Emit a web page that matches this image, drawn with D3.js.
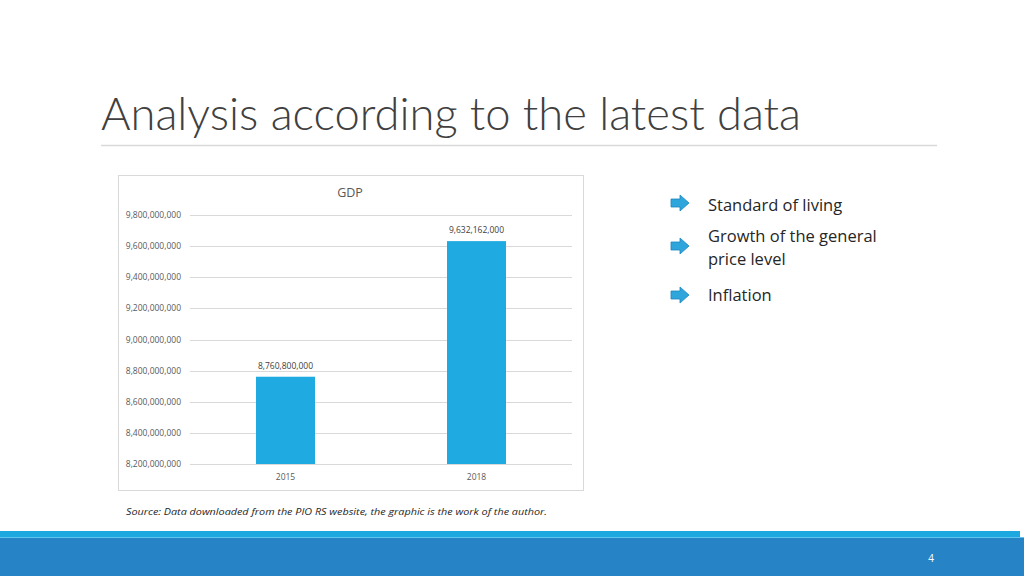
<!DOCTYPE html>
<html>
<head>
<meta charset="utf-8">
<script src="https://cdn.jsdelivr.net/npm/d3@7"></script>
<style>
  body { margin: 0; background: #fff; }
  svg { display: block; font-family: "Open Sans", "Noto Sans", sans-serif; }
</style>
</head>
<body>
<script>
// chart data
const years = ["2015", "2018"];
const gdp = [8760800000, 9632162000];
const yTicks = [8200000000, 8400000000, 8600000000, 8800000000, 9000000000,
                9200000000, 9400000000, 9600000000, 9800000000];
const bullets = [["Standard of living"], ["Growth of the general", "price level"], ["Inflation"]];

const W = 1024, H = 576;
const svg = d3.select("body").append("svg")
    .attr("width", W)
    .attr("height", H);

// slide title
svg.append("text")
    .attr("x", 101).attr("y", 130)
    .attr("font-family", "Lato")
    .attr("font-weight", 300)
    .attr("font-size", 45)
    .attr("fill", "#404040")
    .attr("textLength", 700)
    .attr("lengthAdjust", "spacingAndGlyphs")
    .text("Analysis according to the latest data");

svg.append("line")
    .attr("x1", 101).attr("x2", 937)
    .attr("y1", 145.5).attr("y2", 145.5)
    .attr("stroke", "#d9d9d9").attr("stroke-width", 1.5);

// chart box
svg.append("rect")
    .attr("x", 118.5).attr("y", 175.5)
    .attr("width", 465).attr("height", 315)
    .attr("fill", "#fff")
    .attr("stroke", "#d9d9d9");

svg.append("text")
    .attr("x", 350).attr("y", 197)
    .attr("text-anchor", "middle")
    .attr("font-size", 12.5)
    .attr("fill", "#595959")
    .text("GDP");

const plot = { left: 190, right: 572, top: 215, bottom: 464 };

let x = d3.scaleBand().domain(years).range([plot.left, plot.right]);
let y = d3.scaleLinear().domain([8200000000, 9800000000]).range([plot.bottom, plot.top]);
const fmt = d3.format(",");

const g = svg.append("g");

// gridlines
g.selectAll(".grid")
    .data(yTicks)
    .enter().append("line")
    .attr("class", "grid")
    .attr("x1", plot.left).attr("x2", plot.right)
    .attr("y1", d => Math.round(y(d)) + 0.5)
    .attr("y2", d => Math.round(y(d)) + 0.5)
    .attr("stroke", "#d9d9d9");

// y labels
g.selectAll(".ylab")
    .data(yTicks)
    .enter().append("text")
    .attr("class", "ylab")
    .attr("x", 181)
    .attr("y", d => y(d) + 3)
    .attr("text-anchor", "end")
    .attr("font-size", 8.5)
    .attr("fill", "#595959")
    .text(d => fmt(d));

// bars
const bw = 59;
g.selectAll(".bar")
    .data(gdp)
    .enter().append("rect")
    .attr("class", "bar")
    .attr("x", (d, i) => x(years[i]) + x.bandwidth() / 2 - bw / 2)
    .attr("y", d => y(d))
    .attr("width", bw)
    .attr("height", d => y(8200000000) - y(d))
    .attr("fill", "#1faae1");

// value labels
g.selectAll(".vlab")
    .data(gdp)
    .enter().append("text")
    .attr("class", "vlab")
    .attr("x", (d, i) => x(years[i]) + x.bandwidth() / 2)
    .attr("y", d => y(d) - 8)
    .attr("text-anchor", "middle")
    .attr("font-size", 8.5)
    .attr("fill", "#404040")
    .text(d => fmt(d));

// x labels
g.selectAll(".xlab")
    .data(years)
    .enter().append("text")
    .attr("class", "xlab")
    .attr("x", d => x(d) + x.bandwidth() / 2)
    .attr("y", 480)
    .attr("text-anchor", "middle")
    .attr("font-size", 8.5)
    .attr("fill", "#595959")
    .text(d => d);

// source
svg.append("text")
    .attr("x", 126).attr("y", 515)
    .attr("font-size", 9.5)
    .attr("font-style", "italic")
    .attr("fill", "#262626")
    .attr("textLength", 421)
    .attr("lengthAdjust", "spacingAndGlyphs")
    .text("Source: Data downloaded from the PIO RS website, the graphic is the work of the author.");

// bullet list with arrows
const bulletY = [211, 242, 301];
const arrowY = [203, 246, 295];
bullets.forEach((lines, i) => {
    const ay = arrowY[i];
    svg.append("path")
        .attr("d", `M671,${ay - 4} L680,${ay - 4} L680,${ay - 8} L689,${ay} L680,${ay + 8} L680,${ay + 4} L671,${ay + 4} Z`)
        .attr("fill", "#2ea6dc")
        .attr("stroke", "#1d86bf")
        .attr("stroke-width", 0.8);
    const t = svg.append("text")
        .attr("x", 708).attr("y", bulletY[i])
        .attr("font-size", 16.5)
        .attr("fill", "#262626");
    lines.forEach((s, j) => {
        t.append("tspan")
            .attr("x", 708)
            .attr("dy", j === 0 ? 0 : 23)
            .text(s);
    });
});

// footer bands
svg.append("rect").attr("x", 0).attr("y", 531).attr("width", 1020).attr("height", 6).attr("fill", "#1ea8e0");
svg.append("rect").attr("x", 0).attr("y", 537).attr("width", W).attr("height", 1).attr("fill", "#5fc4ee");
svg.append("rect").attr("x", 0).attr("y", 538).attr("width", W).attr("height", 38).attr("fill", "#2683c6");

svg.append("text")
    .attr("x", 931).attr("y", 562)
    .attr("text-anchor", "middle")
    .attr("font-size", 10)
    .attr("fill", "#fff")
    .text("4");
</script>
</body>
</html>
